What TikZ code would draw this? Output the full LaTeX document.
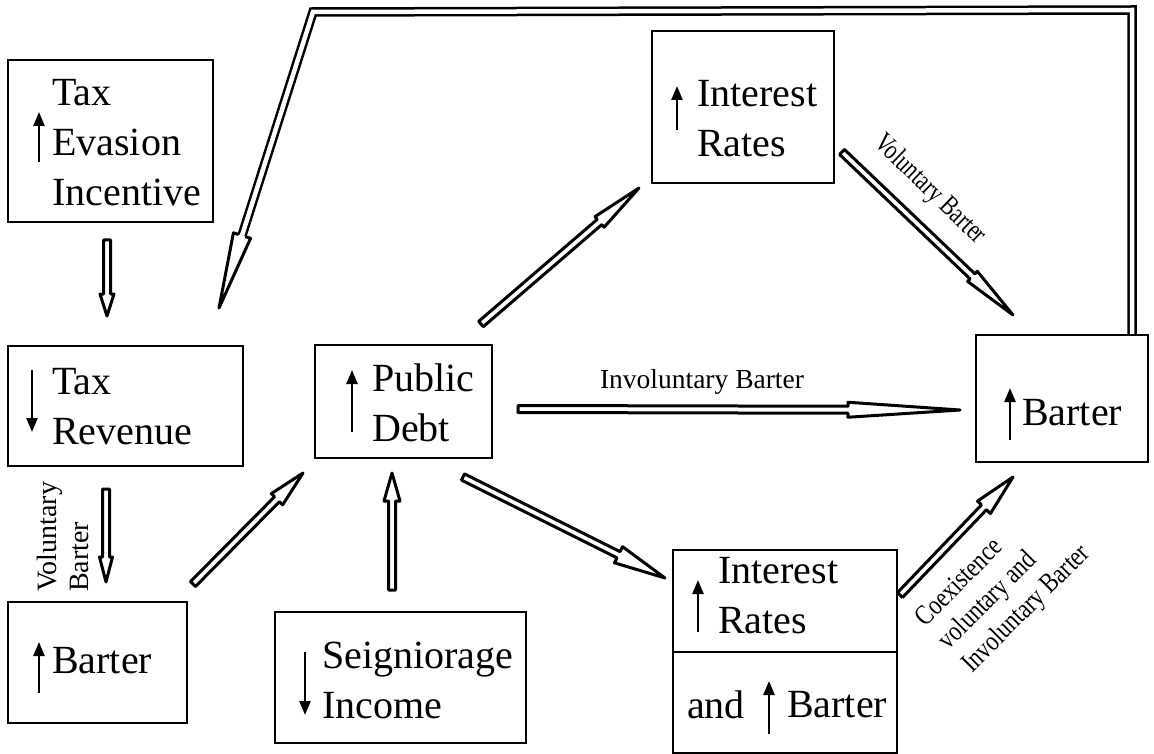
\documentclass[tikz,border=0pt]{standalone}
\usepackage{fontspec}
\setmainfont{Liberation Serif}
\usetikzlibrary{calc,arrows.meta}
\def\sw{3.5pt}
\newcommand\hollowarrow[4]{%
  \coordinate (hb) at ($(#2)!#3!(#1)$);
  \draw[hollow] ($(#1)!\sw!90:(#2)$) -- ($(hb)!\sw!90:(#2)$) -- ($(hb)!#4!90:(#2)$) -- (#2)
    -- ($(hb)!#4!-90:(#2)$) -- ($(hb)!\sw!-90:(#2)$) -- ($(#1)!\sw!-90:(#2)$) -- cycle;}
\begin{document}
\begin{tikzpicture}[x=1pt,y=-1pt,
  box/.style={draw, line width=2.5pt, inner sep=0pt, rectangle},
  big/.style={inner sep=0pt, anchor=north west, align=left, font=\fontsize{40}{50}\selectfont},
  lab/.style={inner sep=0pt, align=left, font=\fontsize{28}{32}\selectfont},
  updn/.style={line width=2.5pt, -{Triangle[length=14pt,width=11pt]}},
  hollow/.style={draw, line width=3pt, line join=round},
  dbl/.style={double, double distance=4.5pt, line width=2.5pt, line join=miter}]
\useasboundingbox (0,0) rectangle (1154,754);

% boxes
\node[box, minimum width=205pt, minimum height=162pt] (te) at (110.5,141) {};
\node[box, minimum width=235pt, minimum height=120pt] (tr) at (125.5,406) {};
\node[box, minimum width=177pt, minimum height=113pt] (pd) at (403.5,401.5) {};
\node[box, minimum width=182pt, minimum height=152pt] (ir) at (743,107) {};
\node[box, minimum width=172pt, minimum height=127pt] (br) at (1062,398.5) {};
\node[box, minimum width=179pt, minimum height=121pt] (bb) at (97.5,662.5) {};
\node[box, minimum width=251pt, minimum height=131pt] (si) at (400.5,677.5) {};
\node[box, minimum width=224pt, minimum height=102pt] (ib1) at (785,601) {};
\node[box, minimum width=224pt, minimum height=101pt] (ib2) at (785,702.5) {};

% texts
\node[big] (teT) at (52,79) {Tax\\Evasion\\Incentive};
\node[big] (trT) at (52,368) {Tax\\Revenue};
\node[big] (pdT) at (372,364) {Public\\Debt};
\node[big] (irT) at (697,80) {Interest\\Rates};
\node[big] (brT) at (1022,399) {Barter};
\node[big] (bbT) at (52,647) {Barter};
\node[big] (siT) at (322,642) {Seigniorage\\Income};
\node[big] (ibT) at (718,557) {Interest\\Rates};
\node[big] (ibA) at (687,691) {and};
\node[big] (ibB) at (787,691) {Barter};

% small arrows
\draw[updn] (39,162) -- (39,112);
\draw[updn] (32,370) -- (32,432);
\draw[updn] (352,432) -- (352,370);
\draw[updn] (677,130) -- (677,86);
\draw[updn] (1010,440) -- (1010,388);
\draw[updn] (39,693) -- (39,642);
\draw[updn] (305,652) -- (305,715);
\draw[updn] (698,632) -- (698,580);
\draw[updn] (769,734) -- (769,681);

% hollow arrows
\coordinate (a1) at (107,240); \coordinate (a2) at (107,316);
\hollowarrow{a1}{a2}{22pt}{7pt}
\coordinate (b1) at (106,489); \coordinate (b2) at (106,582);
\hollowarrow{b1}{b2}{25pt}{6.5pt}
\coordinate (c1) at (193,584); \coordinate (c2) at (303,473);
\hollowarrow{c1}{c2}{37pt}{8pt}
\coordinate (d1) at (392,590); \coordinate (d2) at (392,473);
\hollowarrow{d1}{d2}{28pt}{8pt}
\coordinate (e1) at (463,477); \coordinate (e2) at (665,578);
\hollowarrow{e1}{e2}{52pt}{9pt}
\coordinate (f1) at (481,324); \coordinate (f2) at (639,188);
\hollowarrow{f1}{f2}{52pt}{7pt}
\coordinate (g1) at (518,409); \coordinate (g2) at (960,410);
\hollowarrow{g1}{g2}{112pt}{7.5pt}
\coordinate (h1) at (842,152); \coordinate (h2) at (1013,315);
\hollowarrow{h1}{h2}{56pt}{7pt}
\coordinate (i1) at (900,595); \coordinate (i2) at (1013,477);
\hollowarrow{i1}{i2}{42pt}{9pt}

% bent feedback connector
\coordinate (bendR) at (1132,10);
\coordinate (bendL) at (313,12);
\coordinate (fbTip) at (219,308);
\coordinate (fbH) at ($(fbTip)!76pt!(bendL)$);
\draw[dbl] (br.north -| bendR) -- (bendR) -- (bendL) -- (fbH);
\fill[white] ($(fbH)!9pt!90:(fbTip)$) -- (fbTip) -- ($(fbH)!9pt!-90:(fbTip)$) -- cycle;
\draw[line width=3pt, line join=round] ($(fbH)!3.5pt!90:(fbTip)$) -- ($(fbH)!9pt!90:(fbTip)$) -- (fbTip)
  -- ($(fbH)!9pt!-90:(fbTip)$) -- ($(fbH)!3.5pt!-90:(fbTip)$);

% labels
\node[lab, rotate=90, anchor=north west] (lv) at (37,592) {Voluntary\\Barter};
\node[lab, anchor=base, font=\fontsize{27.5}{32}\selectfont] (li) at (702,388) {Involuntary Barter};
\node[lab, rotate=-44, xscale=0.77] (lvb) at (930,190) {Voluntary Barter};
\node[lab, rotate=45, xscale=0.81, anchor=north west, font=\fontsize{28}{33}\selectfont] (lc) at (912,614) {Coexistence\\voluntary and\\Involuntary Barter};
\end{tikzpicture}
\end{document}
